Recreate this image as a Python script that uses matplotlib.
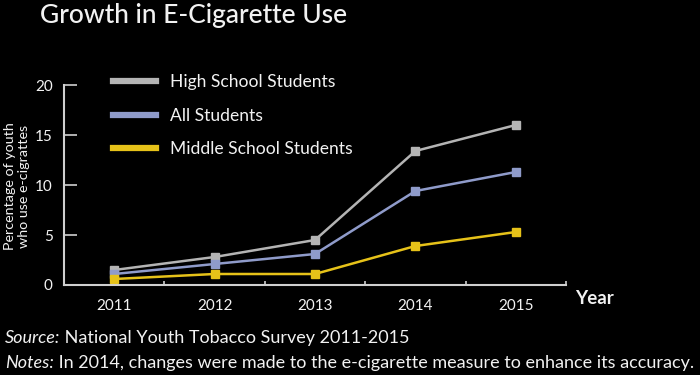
import matplotlib
matplotlib.use("Agg")
import matplotlib.pyplot as plt

years = ["2011", "2012", "2013", "2014", "2015"]
high_school = [1.5, 2.8, 4.5, 13.4, 16.0]
all_students = [1.1, 2.1, 3.1, 9.4, 11.3]
middle_school = [0.6, 1.1, 1.1, 3.9, 5.3]

series = [
    ("High School Students", high_school, "#b4b4b4"),
    ("All Students", all_students, "#8f9bca"),
    ("Middle School Students", middle_school, "#e6c219"),
]

plt.rcParams["font.family"] = ["Lato", "DejaVu Sans"]
fg = "#f2f2f2"
axis_col = "#cfcfcf"

fig = plt.figure(figsize=(7, 3.75), dpi=100, facecolor="black")
ax = fig.add_axes([0.0914, 0.24, 0.7172, 0.5333], facecolor="black")

x = list(range(len(years)))
for label, vals, col in series:
    ax.plot(x, vals, color=col, lw=1.8, marker="s", markersize=5.5, label=label)

ax.set_xlim(-0.5, len(years) - 0.5)
ax.set_ylim(0, 20)
ax.set_yticks([0, 5, 10, 15, 20])
ax.set_xticks(x)
ax.set_xticklabels(years)
ax.set_xticks([i + 0.5 for i in x], minor=True)
ax.tick_params(axis="y", direction="in", length=9, width=1.2, colors=axis_col,
               labelcolor=fg, labelsize=11, pad=8)
ax.tick_params(axis="x", which="major", length=0, labelcolor=fg, labelsize=11, pad=10)
ax.tick_params(axis="x", which="minor", direction="in", length=3, width=1.2, colors=axis_col)
for s in ["top", "right"]:
    ax.spines[s].set_visible(False)
for s in ["left", "bottom"]:
    ax.spines[s].set_color(axis_col)
    ax.spines[s].set_linewidth(1.5)

fig.text(0.024, 0.504, "Percentage of youth\nwho use e-cigrattes", color=fg, fontsize=10.3,
         rotation=90, ha="center", va="center", multialignment="center", linespacing=1.15)

leg = ax.legend(loc="upper left", bbox_to_anchor=(0.1486, 0.8247), bbox_transform=fig.transFigure,
                frameon=False, fontsize=12.6, handlelength=2.46, handletextpad=0.8,
                labelspacing=0.98, borderpad=0)
for h in leg.legend_handles:
    h.set_linewidth(4.5)
    h.set_marker("")
for t in leg.get_texts():
    t.set_color(fg)

fig.text(0.057, 0.96, "Growth in E-Cigarette Use", color=fg, fontsize=19,
         fontweight="medium", va="center", ha="left")
fig.text(0.821, 0.203, "Year", color=fg, fontsize=13.5, fontweight="bold", va="center")

renderer = fig.canvas.get_renderer()
notes = [
    (0.099, "Source:", " National Youth Tobacco Survey 2011-2015"),
    (0.032, "Notes:", " In 2014, changes were made to the e-cigarette measure to enhance its accuracy."),
]
for y, head, body in notes:
    t = fig.text(0.007, y, head, color=fg, fontsize=13, style="italic", va="center")
    bb = t.get_window_extent(renderer).transformed(fig.transFigure.inverted())
    fig.text(bb.x1, y, body, color=fg, fontsize=13, va="center")

fig.savefig("out.png", dpi=100, facecolor="black")
